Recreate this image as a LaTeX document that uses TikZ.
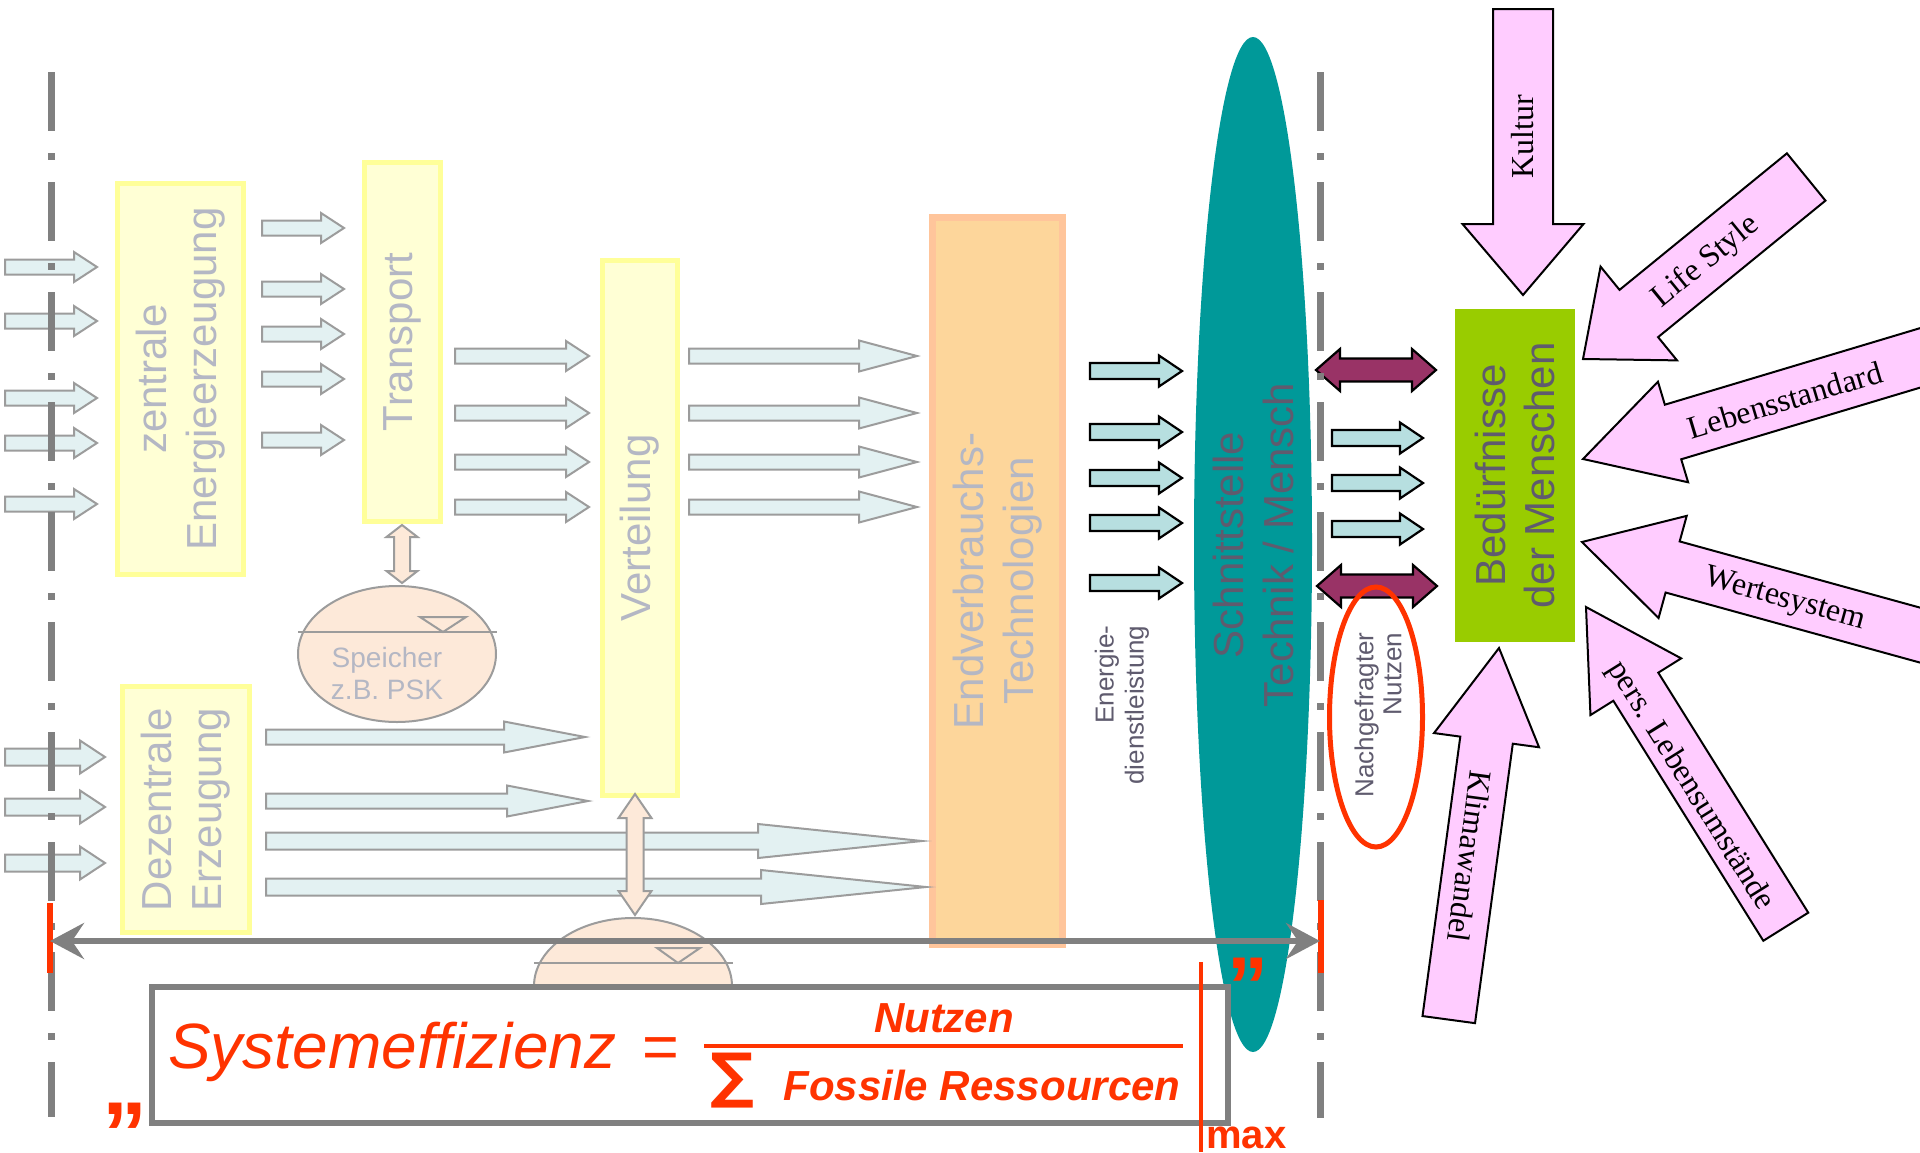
\documentclass[tikz,border=0pt]{standalone}
\usepackage{fontspec}
\usepackage{graphicx}
\setmainfont{Liberation Sans}
\newfontfamily\serifx{Liberation Serif}
\newfontfamily\symbx{DejaVu Sans}
\usetikzlibrary{arrows.meta}

\definecolor{fadefill}{HTML}{E3F1F2}
\definecolor{fadeline}{HTML}{9C9C9C}
\definecolor{fadetext}{HTML}{B4B7C4}
\definecolor{ylwline}{HTML}{FFFF99}
\definecolor{ylwfill}{HTML}{FFFFD5}
\definecolor{peach}{HTML}{FDE9D9}
\definecolor{endfill}{HTML}{FDD69B}
\definecolor{endline}{HTML}{FFC59B}
\definecolor{tealc}{HTML}{009999}
\definecolor{darktext}{HTML}{5F5B6E}
\definecolor{bluefill}{HTML}{B7DFE0}
\definecolor{wine}{HTML}{993366}
\definecolor{pinkc}{HTML}{FFCCFF}
\definecolor{limec}{HTML}{99CC00}
\definecolor{redc}{HTML}{FF3300}
\definecolor{grayc}{HTML}{808080}

% horizontal block arrow: x1, x2, y, shaft half, head half, head length, style
\newcommand{\hblock}[7]{%
  \draw[#7] (#1,#3-#4) -- (#2-#6,#3-#4) -- (#2-#6,#3-#5) -- (#2,#3)
    -- (#2-#6,#3+#5) -- (#2-#6,#3+#4) -- (#1,#3+#4) -- cycle;}
% horizontal double block arrow
\newcommand{\hdouble}[7]{%
  \draw[#7] (#1,#3) -- (#1+#6,#3-#5) -- (#1+#6,#3-#4) -- (#2-#6,#3-#4)
    -- (#2-#6,#3-#5) -- (#2,#3) -- (#2-#6,#3+#5) -- (#2-#6,#3+#4)
    -- (#1+#6,#3+#4) -- (#1+#6,#3+#5) -- cycle;}
% vertical double block arrow: y1, y2, x, shaft half, head half, head length, style
\newcommand{\vdouble}[7]{%
  \draw[#7] (#3,#1) -- (#3+#5,#1+#6) -- (#3+#4,#1+#6) -- (#3+#4,#2-#6)
    -- (#3+#5,#2-#6) -- (#3,#2) -- (#3-#5,#2-#6) -- (#3-#4,#2-#6)
    -- (#3-#4,#1+#6) -- (#3-#5,#1+#6) -- cycle;}
% influence arrow: tip x, tip y, direction to tail, length, shaft half, head half, head length
\newcommand{\influence}[7]{%
  \begin{scope}[shift={(#1,#2)},rotate=#3]
    \draw[pinkarr] (0,0) -- (#7,#6) -- (#7,#5) -- (#4,#5) -- (#4,-#5)
      -- (#7,-#5) -- (#7,-#6) -- cycle;
  \end{scope}}

\tikzset{
  fadearr/.style={draw=fadeline, fill=fadefill, line width=2pt, line join=miter},
  darkarr/.style={draw=black, fill=bluefill, line width=2.2pt, line join=miter},
  winearr/.style={draw=black, fill=wine, line width=2.2pt, line join=miter},
  pinkarr/.style={draw=black, fill=pinkc, line width=2pt, line join=miter},
  peacharr/.style={draw=fadeline, fill=peach, line width=2pt, line join=miter},
  ylwbox/.style={draw=ylwline, fill=ylwfill, line width=5pt, rotate=90,
    text=fadetext, align=center, inner sep=0pt,
    font=\fontsize{42}{50}\selectfont},
  endbox/.style={draw=endline, fill=endfill, line width=7pt, rotate=90,
    text=fadetext, align=center, inner sep=0pt,
    font=\fontsize{42}{50}\selectfont},
  greenbox/.style={fill=limec, rotate=90, text=darktext, align=center,
    inner sep=0pt, font=\fontsize{42}{49}\selectfont},
  bigtext/.style={rotate=90, align=center, inner sep=0pt,
    font=\fontsize{42}{50}\selectfont},
  smalltext/.style={rotate=90, align=right, inner sep=0pt},
  infl/.style={inner sep=0pt, font=\serifx\fontsize{32}{36}\selectfont},
  axisline/.style={draw=grayc, line width=7pt,
    dash pattern=on 59pt off 22pt on 7pt off 22pt},
  redmark/.style={draw=redc, line width=6pt},
  formbox/.style={draw=grayc, fill=white, line width=6pt, inner sep=0pt},
  redtext/.style={text=redc, inner sep=0pt},
}

\begin{document}
\begin{tikzpicture}[x=1pt,y=-1pt]
\clip (0,0) rectangle (1920,1152);
\fill[white] (0,0) rectangle (1920,1152);

% ---- supply chain boxes
\node[ylwbox, minimum width=391pt, minimum height=126pt] (zentral) at (180.5,379) {zentrale\\Energieerzeugung};
\node[ylwbox, minimum width=359pt, minimum height=76pt] (transport) at (402.5,342) {Transport};
\node[ylwbox, minimum width=535pt, minimum height=75pt] (verteilung) at (640,528) {Verteilung};
\node[ylwbox, minimum width=246pt, minimum height=127pt] (dezentral) at (186,809.5) {Dezentrale\\Erzeugung};
\node[endbox, minimum width=727pt, minimum height=130pt] (endverbr) at (997.5,581) {Endverbrauchs-\\Technologien};

% ---- energy flows
\foreach \y in {267,321,398,443,504} {\hblock{5}{97}{\y}{7.5}{15}{23}{fadearr}}
\foreach \y in {228,289,334,379,440} {\hblock{262}{344}{\y}{7.5}{15}{23}{fadearr}}
\foreach \y in {356,413,462,507} {\hblock{455}{589}{\y}{7.5}{15}{23}{fadearr}}
\foreach \y in {356,413,462,507} {\hblock{689}{917}{\y}{7.5}{15.5}{58}{fadearr}}
\foreach \y in {757,807,863} {\hblock{5}{105}{\y}{8.5}{16.5}{25}{fadearr}}
\hblock{266}{585}{737}{7.5}{15.5}{81}{fadearr}
\hblock{266}{588}{801}{7.5}{15.5}{81}{fadearr}
\hblock{266}{922}{841}{8.5}{17}{164}{fadearr}
\hblock{266}{926}{887}{8.5}{17}{165}{fadearr}

% ---- storages
\draw[peacharr] (397,654) ellipse [x radius=99, y radius=68];
\draw[fadeline, line width=2pt] (298,632) -- (497,632);
\draw[fadeline, line width=2pt] (420,617) -- (466,617) -- (443,632) -- cycle;
\node[text=fadetext, align=center, inner sep=0pt, font=\fontsize{28}{32}\selectfont] (speicher) at (387,673) {Speicher\\z.B. PSK};
\vdouble{525}{583}{402}{8}{15.5}{12}{peacharr}

\draw[peacharr] (633,986) ellipse [x radius=99, y radius=68];
\draw[fadeline, line width=2pt] (534,963) -- (733,963);
\draw[fadeline, line width=2pt] (657,948) -- (700,948) -- (678,963) -- cycle;
\vdouble{794}{915}{635}{8.5}{16.5}{24}{peacharr}

% ---- interface technology / human
\fill[tealc] (1253,544.5) ellipse [x radius=59, y radius=507.5];
\node[bigtext, text=darktext] (schnitt) at (1253,545) {Schnittstelle\\Technik / Mensch};

\foreach \y in {371,432,478,523,583} {\hblock{1090}{1182}{\y}{8}{15.5}{23}{darkarr}}
\node[smalltext, text=darktext, font=\fontsize{26}{30}\selectfont] (eds) at (1122,705) {Energie-\\dienstleistung};

\foreach \y in {438,483,529} {\hblock{1332}{1423}{\y}{8}{15.5}{23}{darkarr}}
\hdouble{1316}{1436}{370}{11.5}{21}{24}{winearr}
\hdouble{1317}{1437}{586}{11.5}{21}{24}{winearr}

\node[smalltext, text=darktext, font=\fontsize{26}{28}\selectfont] (nutzen) at (1378,715) {Nachgefragter\\Nutzen};
\draw[redc, line width=5pt] (1376,717) ellipse [x radius=46.5, y radius=130];

% ---- system boundary
\draw[axisline] (51,72) -- (51,1117);
\draw[axisline] (1320,72) -- (1320,1118);
\draw[redmark] (50,903) -- (50,973);
\draw[redmark] (1321,900) -- (1321,973);
\coordinate (bl) at (50,941);
\coordinate (br) at (1320,941);
\draw[grayc, line width=6pt, {Stealth[length=34pt,width=36pt,inset=12pt]}-{Stealth[length=34pt,width=36pt,inset=12pt]}] (bl) -- (br);

% ---- efficiency formula
\node[formbox, minimum width=1076pt, minimum height=136pt, anchor=north west] (formel) at (149,984) {};
\node[redtext, anchor=base west, font=\fontsize{64}{64}\selectfont\itshape] (seff) at (168,1068) {Systemeffizienz};
\node[redtext, anchor=base west, font=\fontsize{63}{63}\selectfont] (gleich) at (642,1068) {=};
\draw[redc, line width=4pt] (704,1046) -- (1183,1046);
\node[redtext, anchor=base, font=\fontsize{42}{42}\selectfont\bfseries\itshape] (zaehler) at (944,1032) {Nutzen};
\node[redtext, anchor=north west] (summe) at (710,1053) {\resizebox*{44pt}{55pt}{\color{redc}\symbx\bfseries ∑}};
\node[redtext, anchor=base, font=\fontsize{42}{42}\selectfont\bfseries\itshape] (nenner) at (982,1100) {Fossile Ressourcen};
\node[redtext, anchor=base west, font=\fontsize{90}{90}\selectfont\bfseries] (qopen) at (102,1114) {„};
\node[redtext, anchor=base west, font=\fontsize{82}{82}\selectfont\bfseries] (qclose) at (1227,1014) {”};
\draw[redc, line width=4pt] (1201,962) -- (1201,1152);
\node[redtext, anchor=base west, font=\fontsize{40}{40}\selectfont\bfseries] (maxlbl) at (1206,1148) {max};

% ---- human needs and their influences
\node[greenbox, minimum width=333pt, minimum height=120pt] (beduerf) at (1515,475.5) {Bedürfnisse\\der Menschen};

\influence{1523}{295}{90}{286}{30}{60.5}{71}
\influence{1583}{359}{39.2}{288}{30.5}{60.5}{72}
\influence{1583}{459}{16.7}{420}{28.5}{52.5}{94}
\influence{1582}{542}{-15.4}{420}{26.5}{53}{94}
\influence{1586}{607}{-58}{377}{26.5}{53.5}{94}
\influence{1499}{648}{-97.7}{375}{26.5}{53}{93}

\node[infl, rotate=90] (kultur) at (1523,137) {Kultur};
\node[infl, rotate=39.2] (life) at (1706,262) {Life Style};
\node[infl, rotate=16.7] (standard) at (1785,400) {Lebensstandard};
\node[infl, rotate=-15.4] (werte) at (1785,600) {Wertesystem};
\node[infl, rotate=-58] (umst) at (1690,786) {pers. Lebensumstände};
\node[infl, rotate=-97.7] (klima) at (1470,856) {Klimawandel};
\end{tikzpicture}
\end{document}
